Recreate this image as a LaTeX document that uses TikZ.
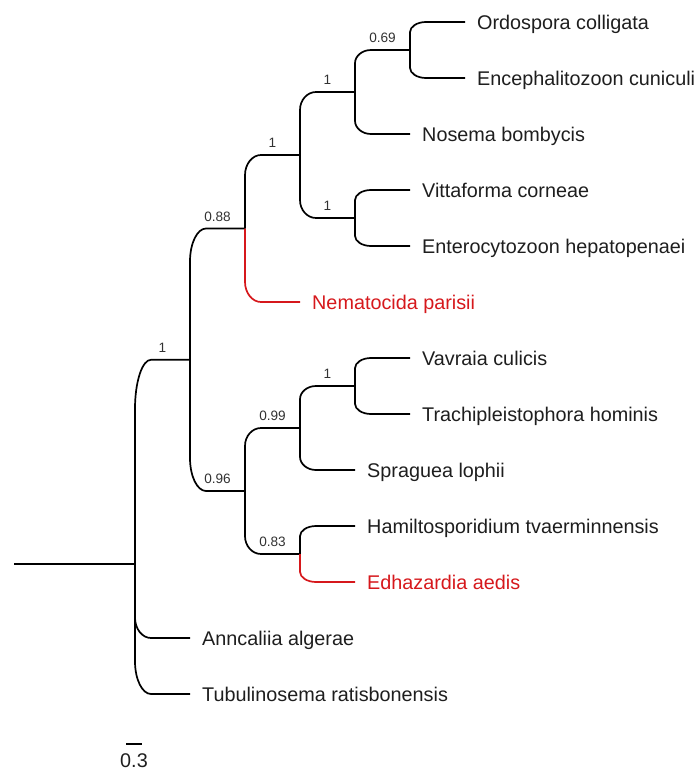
\documentclass[tikz,border=0pt]{standalone}
\usepackage{fontspec}
\setmainfont{Liberation Sans}
\usetikzlibrary{calc}
\definecolor{treered}{RGB}{214,24,28}
\definecolor{leaftxt}{RGB}{30,30,30}
\definecolor{numtxt}{RGB}{50,50,50}
\tikzset{
  branch/.style={line width=1.7pt, line cap=butt, line join=round, black},
  redbranch/.style={treered},
  leaf/.style={anchor=base west, inner sep=0pt, text=leaftxt, font=\fontsize{19.8}{24}\selectfont},
  redleaf/.style={text=treered},
  support/.style={anchor=base, inner sep=0pt, text=numtxt, font=\fontsize{13.6}{16}\selectfont},
}
% branch from parent point #2 to child point #3: vertical, rounded corner, horizontal
\newcommand\brn[3][]{%
  \draw[branch,#1] let \p1=(#2), \p2=(#3),
      \n1={0.22*abs(\y2-\y1)+4}, \n2={sign(\y1-\y2)} in
    (\x1,\y1) -- (\x1,{\y2+\n2*\n1})
    .. controls (\x1,{\y2+0.45*\n2*\n1}) and ({\x1+7.2},\y2) .. ({\x1+16},\y2)
    -- (\x2,\y2);}
\begin{document}
\begin{tikzpicture}[x=1pt,y=-1pt]
\useasboundingbox (0,0) rectangle (697,771);
% internal nodes
\coordinate (rootstart) at (14,563.9);
\coordinate (root) at (135,563.9);
\coordinate (n1) at (190,359.75);
\coordinate (n088) at (245,228.5);
\coordinate (n1b) at (300,155);
\coordinate (n1c) at (355,92);
\coordinate (n069) at (410,50);
\coordinate (n1d) at (355,218);
\coordinate (n096) at (245,491);
\coordinate (n099) at (300,428);
\coordinate (n1e) at (355,386);
\coordinate (n083) at (300,554);
% tips
\coordinate (tOrd) at (465,22);
\coordinate (tEnc) at (465,78);
\coordinate (tNos) at (410,134);
\coordinate (tVit) at (410,190);
\coordinate (tEnt) at (410,246);
\coordinate (tNem) at (300,302);
\coordinate (tVav) at (410,358);
\coordinate (tTra) at (410,414);
\coordinate (tSpr) at (355,470);
\coordinate (tHam) at (355,526);
\coordinate (tEdh) at (355,582);
\coordinate (tAnc) at (190,638);
\coordinate (tTub) at (190,694);

% branches
\draw[branch] (rootstart) -- (root);
\brn{root}{n1}
\brn{root}{tAnc}
\brn{root}{tTub}
\brn{n1}{n088}
\brn{n1}{n096}
\brn{n088}{n1b}
\brn[redbranch]{n088}{tNem}
\brn{n1b}{n1c}
\brn{n1b}{n1d}
\brn{n1c}{n069}
\brn{n1c}{tNos}
\brn{n069}{tOrd}
\brn{n069}{tEnc}
\brn{n1d}{tVit}
\brn{n1d}{tEnt}
\brn{n096}{n099}
\brn{n096}{n083}
\brn{n099}{n1e}
\brn{n099}{tSpr}
\brn{n1e}{tVav}
\brn{n1e}{tTra}
\brn{n083}{tHam}
\brn[redbranch]{n083}{tEdh}

% leaf labels
\node[leaf] (lOrd) at (477,29) {Ordospora colligata};
\node[leaf] (lEnc) at (477,85) {Encephalitozoon cuniculi};
\node[leaf] (lNos) at (422,141) {Nosema bombycis};
\node[leaf] (lVit) at (422,197) {Vittaforma corneae};
\node[leaf] (lEnt) at (422,253) {Enterocytozoon hepatopenaei};
\node[leaf,redleaf] (lNem) at (312,309) {Nematocida parisii};
\node[leaf] (lVav) at (422,365) {Vavraia culicis};
\node[leaf] (lTra) at (422,421) {Trachipleistophora hominis};
\node[leaf] (lSpr) at (367,477) {Spraguea lophii};
\node[leaf] (lHam) at (367,533) {Hamiltosporidium tvaerminnensis};
\node[leaf,redleaf] (lEdh) at (367,589) {Edhazardia aedis};
\node[leaf] (lAnc) at (202,645) {Anncaliia algerae};
\node[leaf] (lTub) at (202,701) {Tubulinosema ratisbonensis};

% support values
\node[support] (s1) at (162.5,352) {1};
\node[support] (s088) at (217.5,221) {0.88};
\node[support] (s1b) at (272.5,147.5) {1};
\node[support] (s1c) at (327.5,84.5) {1};
\node[support] (s069) at (382.5,42.5) {0.69};
\node[support] (s1d) at (327.5,210.5) {1};
\node[support] (s096) at (217.5,483.5) {0.96};
\node[support] (s099) at (272.5,420.5) {0.99};
\node[support] (s1e) at (327.5,378.5) {1};
\node[support] (s083) at (272.5,546.5) {0.83};

% scale bar
\coordinate (sb1) at (126,744);
\coordinate (sb2) at (142,744);
\draw[branch] (sb1) -- (sb2);
\node[anchor=base, inner sep=0pt, text=leaftxt, font=\fontsize{19.8}{24}\selectfont] (sbl) at (134,767) {0.3};
\end{tikzpicture}
\end{document}
